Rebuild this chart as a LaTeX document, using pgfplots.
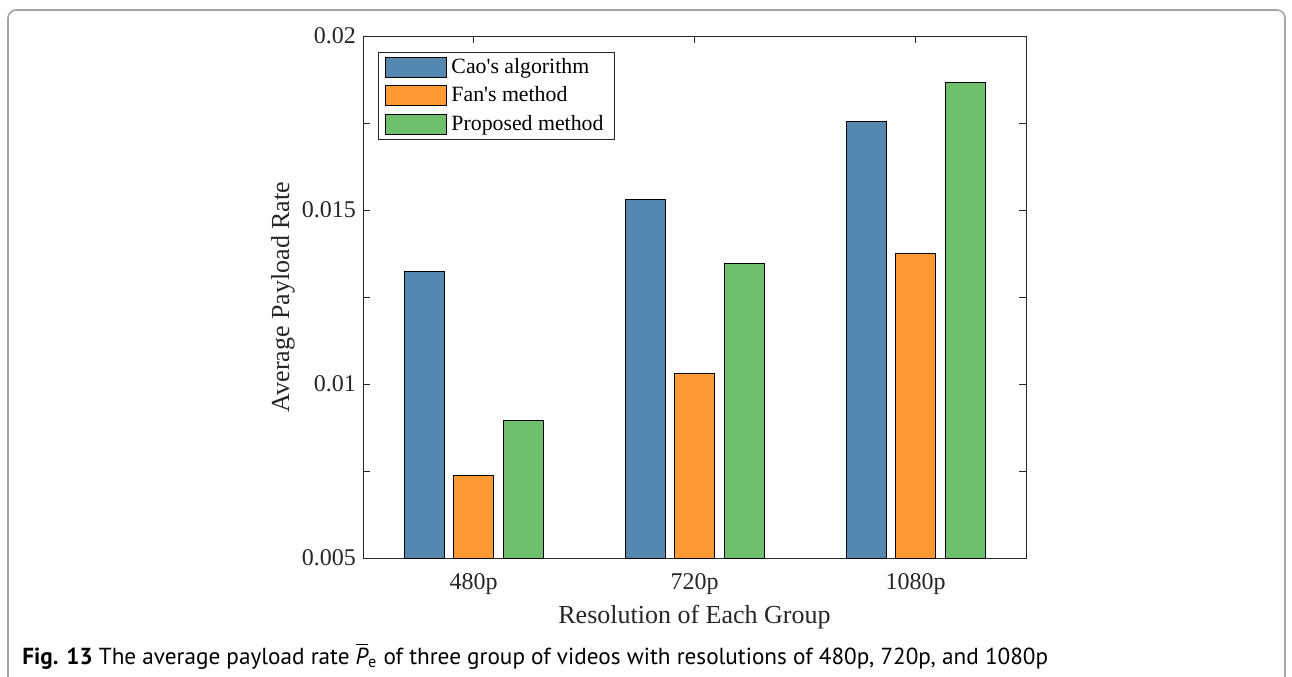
\documentclass[border=0pt]{standalone}
\usepackage{fontspec}
\setmainfont{Liberation Serif}
\newfontfamily\legfont{Liberation Serif}
\newfontfamily\capfont{PT Sans}
\usepackage{pgfplots}
\pgfplotsset{compat=1.18}
\definecolor{cblue}{RGB}{85,136,176}
\definecolor{corange}{RGB}{255,153,51}
\definecolor{cgreen}{RGB}{112,191,108}
\definecolor{axgray}{RGB}{38,38,38}
\pgfplotsset{mylegend/.style={legend image code/.code={\draw[##1] (0pt,-5pt) rectangle (30.5pt,5pt);}}}
\begin{document}
\begin{tikzpicture}
\useasboundingbox (0,0) rectangle (646pt,338pt);
\draw[gray!70, line width=0.8pt, rounded corners=4pt] (4pt,-20pt) rectangle (642.5pt,333pt);
\begin{axis}[
  at={(181.5pt,59pt)}, anchor=south west,
  scale only axis, width=331.5pt, height=261pt,
  xmin=0.5, xmax=3.5, ymin=0.005, ymax=0.02,
  xtick={1,2,3}, xticklabels={480p,720p,1080p},
  ytick={0.005,0.0075,0.01,0.0125,0.015,0.0175,0.02},
  yticklabels={0.005,,0.01,,0.015,,0.02},
  scaled y ticks=false,
  tick align=inside, major tick length=3.5pt,
  axis line style={axgray, line width=0.5pt},
  tick style={axgray, line width=0.5pt},
  ticklabel style={font=\fontsize{12}{14}\selectfont, text=axgray},
  xticklabel style={yshift=-4pt},
  xlabel={Resolution of Each Group}, ylabel={Average Payload Rate},
  label style={font=\fontsize{13}{15}\selectfont, text=axgray},
  xlabel style={at={(axis description cs:0.5,0)}, anchor=center, yshift=-29.5pt},
  ylabel style={at={(axis description cs:-0.1207,0.5)}, anchor=center, rotate=0},
  legend style={at={(0.0226,0.969)}, anchor=north west, draw=axgray, line width=0.5pt,
    font=\legfont\fontsize{10.9}{12}\selectfont, inner xsep=3.5pt, inner ysep=1pt, row sep=1pt},
  legend cell align=left,
]
\addplot[ybar, bar width=20pt, bar shift=-24.75pt, fill=cblue, draw=black, line width=0.5pt, mylegend]
  coordinates {(1,0.01322) (2,0.01529) (3,0.01753)};
\addplot[ybar, bar width=20pt, bar shift=0pt, fill=corange, draw=black, line width=0.5pt, mylegend]
  coordinates {(1,0.00736) (2,0.01029) (3,0.01376)};
\addplot[ybar, bar width=20pt, bar shift=24.75pt, fill=cgreen, draw=black, line width=0.5pt, mylegend]
  coordinates {(1,0.00894) (2,0.01345) (3,0.01865)};
\legend{Cao's algorithm, Fan's method, Proposed method}
\end{axis}
\node[anchor=base west, inner sep=0pt] at (11pt,6pt) {\capfont\fontsize{11.6}{14}\selectfont\textbf{Fig. 13} The average payload rate $\overline{\mbox{\itshape P}}_{\mbox{\fontsize{8.1}{9}\selectfont e}}$ of three group of videos with resolutions of 480p, 720p, and 1080p};
\end{tikzpicture}
\end{document}
